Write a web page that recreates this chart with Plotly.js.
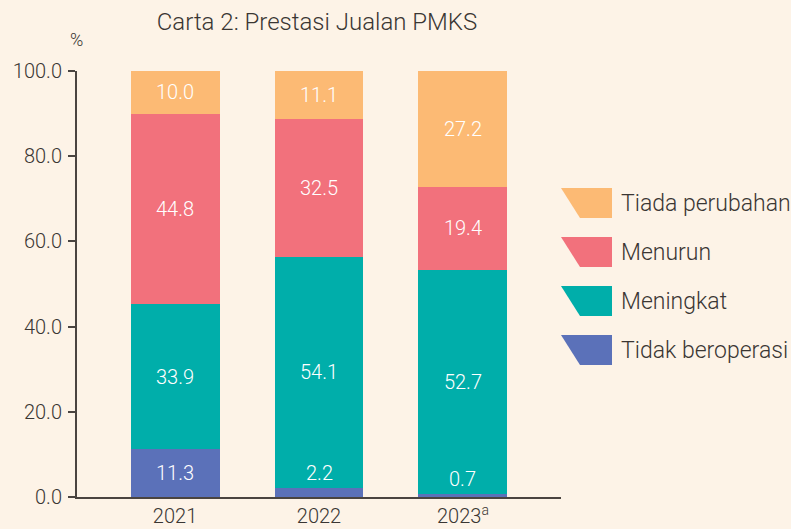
<!DOCTYPE html>
<html>
<head>
<meta charset="utf-8">
<script src="https://cdn.plot.ly/plotly-3.0.1.min.js"></script>
<style>
html,body{margin:0;padding:0;background:#FDF3E7;}
#chart{width:791px;height:529px;}
</style>
</head>
<body>
<div id="chart"></div>
<script>
// Data
const categories = ["2021", "2022", "2023<sup>a</sup>"];
const tidakBeroperasi = [11.3, 2.2, 0.7];
const meningkat = [33.9, 54.1, 52.7];
const menurun = [44.8, 32.5, 19.4];
const tiadaPerubahan = [10.0, 11.1, 27.2];
const seriesNames = ["Tidak beroperasi", "Meningkat", "Menurun", "Tiada perubahan"];
const yTicks = [0, 20, 40, 60, 80, 100];

const colors = ["#5B71B9", "#00AEAA", "#F2717C", "#FCBA74"];
const FONT = "Roboto, 'Noto Sans', sans-serif";
const W = 791, H = 529;
const M = {l: 77, r: 230, t: 71, b: 32};
const plotW = W - M.l - M.r, plotH = H - M.t - M.b;

const seriesData = [tidakBeroperasi, meningkat, menurun, tiadaPerubahan];
const small = (i, v) => i === 0 && v < 5;
const traces = seriesData.map((vals, i) => {
  const hasInside = vals.some(v => !small(i, v));
  return {
    type: 'bar',
    x: categories,
    y: vals,
    name: seriesNames[i],
    marker: {color: colors[i], line: {width: 0}},
    text: vals.map(v => small(i, v) ? '' : v.toFixed(1)),
    textposition: hasInside ? 'inside' : 'none',
    insidetextanchor: 'middle',
    textangle: 0,
    constraintext: 'none',
    textfont: {family: FONT, size: 20, color: '#FFFFFF', weight: 300},
    hoverinfo: 'skip',
    showlegend: false
  };
});

const annotations = [];
// small bottom-segment labels placed just above the segment
tidakBeroperasi.forEach((v, j) => {
  if (small(0, v)) {
    annotations.push({
      x: j, y: v, xref: 'x', yref: 'y',
      text: v.toFixed(1), showarrow: false, yanchor: 'bottom', yshift: 1,
      font: {family: FONT, size: 20, color: '#FFFFFF', weight: 300}
    });
  }
});
// % unit label
annotations.push({
  xref: 'paper', yref: 'paper', x: (76 - M.l) / plotW, y: (H - M.b - 40) / plotH,
  text: '%', showarrow: false, xanchor: 'center', yanchor: 'middle',
  font: {family: FONT, size: 18, color: '#3A3633', weight: 300}
});

// custom legend (top to bottom)
const shapes = [];
const legendOrder = [3, 2, 1, 0];
const px = x => (x - M.l) / plotW;
const py = y => (H - M.b - y) / plotH;
legendOrder.forEach((si, k) => {
  const top = 188 + k * 49, bot = top + 30;
  const path = `M ${px(561)} ${py(top)} L ${px(612)} ${py(top)} L ${px(612)} ${py(bot)} L ${px(580)} ${py(bot)} Z`;
  shapes.push({type: 'path', xref: 'paper', yref: 'paper', path: path,
    fillcolor: colors[si], line: {width: 0}, layer: 'above'});
  annotations.push({
    xref: 'paper', yref: 'paper', x: px(619), y: py(top + 15),
    text: seriesNames[si], showarrow: false, xanchor: 'left', yanchor: 'middle',
    font: {family: FONT, size: 23, color: '#3A3633', weight: 300}
  });
});

const layout = {
  width: W, height: H,
  paper_bgcolor: '#FDF3E7', plot_bgcolor: '#FDF3E7',
  margin: M,
  barmode: 'stack',
  bargap: 0.382,
  showlegend: false,
  title: {
    text: 'Carta 2: Prestasi Jualan PMKS',
    font: {family: FONT, size: 24, color: '#3A3633', weight: 300},
    x: (317 - M.l) / plotW, xref: 'paper', xanchor: 'center', y: 1 - 22 / H, yanchor: 'middle'
  },
  xaxis: {
    type: 'category',
    range: [-0.681, 2.681],
    showline: true, linecolor: '#4A4440', linewidth: 2,
    ticks: '', showgrid: false, zeroline: false,
    tickfont: {family: FONT, size: 20, color: '#3A3633', weight: 300},
    fixedrange: true
  },
  yaxis: {
    range: [0, 100],
    tickvals: yTicks,
    ticktext: yTicks.map(v => v.toFixed(1)),
    showline: true, linecolor: '#4A4440', linewidth: 2,
    ticks: 'outside', ticklen: 7, tickwidth: 2, tickcolor: '#4A4440',
    showgrid: false, zeroline: false,
    tickfont: {family: FONT, size: 20, color: '#3A3633', weight: 300},
    ticklabelstandoff: 2,
    fixedrange: true
  },
  shapes: shapes,
  annotations: annotations
};

Plotly.newPlot('chart', traces, layout, {displayModeBar: false, staticPlot: true});
</script>
</body>
</html>
